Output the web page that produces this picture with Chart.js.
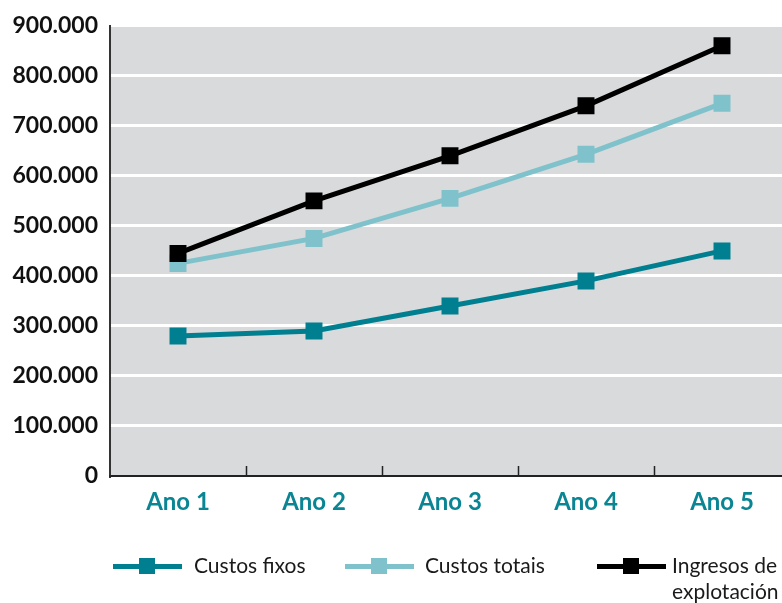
<!DOCTYPE html>
<html>
<head>
<meta charset="utf-8">
<script src="https://cdn.jsdelivr.net/npm/chart.js@4/dist/chart.umd.min.js"></script>
<style>
  html, body { margin: 0; padding: 0; background: #fff; overflow: hidden; }
  #wrap { position: relative; width: 790px; height: 603px; overflow: hidden; }
  #c { position: absolute; left: 0; top: 0; width: 790px; height: 603px; }
  .lg { position: absolute; font-family: Lato, "Open Sans", sans-serif; font-size: 21px; color: #1a1a1a; line-height: 26px; }
  .lg .sw { position: absolute; height: 5px; }
  .lg .mk { position: absolute; width: 16px; height: 16px; }
</style>
</head>
<body>
<div id="wrap">
  <canvas id="c" width="790" height="603"></canvas>
  <div id="legend"></div>
</div>
<script>
// Categories and series
const categories = ['Ano 1', 'Ano 2', 'Ano 3', 'Ano 4', 'Ano 5'];
const custosFixos = [280000, 290000, 340000, 390000, 450000];
const custosTotais = [425000, 475000, 555000, 643000, 745000];
const ingresos = [445000, 550000, 640000, 740000, 860000];
const seriesNames = ['Custos fixos', 'Custos totais', 'Ingresos de\nexplotación'];
const seriesColors = ['#007f91', '#7fc2cb', '#000000'];

function fmtThousands(v) {
  return String(Math.round(v)).replace(/\B(?=(\d{3})+(?!\d))/g, '.');
}

// Gray plot background
const plotBackground = {
  id: 'plotBackground',
  beforeDraw(chart) {
    const { ctx, chartArea: a } = chart;
    ctx.save();
    ctx.fillStyle = '#d9dadc';
    ctx.fillRect(a.left, a.top, a.right - a.left, a.bottom - a.top);
    ctx.restore();
  }
};

// Short inward ticks on the category axis at band boundaries
const bandTicks = {
  id: 'bandTicks',
  afterDatasetsDraw(chart) {
    const { ctx, chartArea: a } = chart;
    const x = chart.scales.x;
    const n = chart.data.labels.length;
    const step = n > 1 ? x.getPixelForValue(1) - x.getPixelForValue(0) : 0;
    ctx.save();
    ctx.strokeStyle = '#222';
    ctx.lineWidth = 1.5;
    ctx.beginPath();
    for (let i = 0; i < n; i++) {
      const px = Math.round(x.getPixelForValue(i) + step / 2) + 0.5;
      ctx.moveTo(px, a.bottom);
      ctx.lineTo(px, a.bottom - 10);
    }
    ctx.moveTo(a.left - 1, a.bottom);
    ctx.lineTo(a.left + 4, a.bottom);
    ctx.stroke();
    ctx.restore();
  }
};

const values = [custosFixos, custosTotais, ingresos];
const datasets = values.map((d, i) => ({
  label: seriesNames[i].replace('\n', ' '),
  data: d,
  borderColor: seriesColors[i],
  backgroundColor: seriesColors[i],
  borderWidth: 5,
  pointStyle: 'rect',
  pointRadius: 12,
  pointHoverRadius: 12,
  pointBorderWidth: 0,
  tension: 0,
  order: 3 - i
}));

new Chart(document.getElementById('c'), {
  type: 'line',
  data: { labels: categories, datasets },
  plugins: [plotBackground, bandTicks],
  options: {
    responsive: false,
    animation: false,
    layout: { autoPadding: false, padding: { top: 24, right: 0, left: 0, bottom: 0 } },
    plugins: { legend: { display: false }, tooltip: { enabled: false } },
    scales: {
      x: {
        type: 'category',
        offset: true,
        grid: { display: false, drawTicks: false },
        border: { display: true, color: '#222', width: 2 },
        ticks: {
          color: '#0a8593',
          padding: 12,
          font: { family: 'Lato', size: 24, weight: 'bold' }
        },
        afterFit(s) { s.height = 127; }
      },
      y: {
        min: 0,
        max: 900000,
        grid: { color: '#ffffff', lineWidth: 3, drawTicks: false },
        border: { display: true, color: '#333', width: 2 },
        ticks: {
          stepSize: 100000,
          color: '#111',
          padding: 12,
          font: { family: 'Lato', size: 23, weight: 'bold' },
          callback: v => fmtThousands(v)
        },
        afterFit(s) { s.width = 110; }
      }
    }
  }
});

// Legend row beneath the chart, built from the series
const legendSpots = [113, 345, 597];
const legendTextX = [194, 425, 672];
const legendEl = document.getElementById('legend');
seriesNames.forEach((name, i) => {
  const x0 = legendSpots[i];
  const sw = document.createElement('div');
  sw.className = 'lg';
  sw.style.left = x0 + 'px';
  sw.style.top = '556px';
  sw.style.width = '70px';
  sw.style.height = '20px';
  const line = document.createElement('div');
  line.className = 'sw';
  line.style.left = '0px'; line.style.top = '8px'; line.style.width = '69px';
  line.style.background = seriesColors[i];
  const mk = document.createElement('div');
  mk.className = 'mk';
  mk.style.left = '26px'; mk.style.top = '2px';
  mk.style.background = seriesColors[i];
  sw.appendChild(line); sw.appendChild(mk);
  legendEl.appendChild(sw);
  const tx = document.createElement('div');
  tx.className = 'lg';
  tx.style.left = legendTextX[i] + 'px';
  tx.style.top = '552px';
  tx.style.whiteSpace = 'pre';
  tx.textContent = name;
  legendEl.appendChild(tx);
});
</script>
</body>
</html>
